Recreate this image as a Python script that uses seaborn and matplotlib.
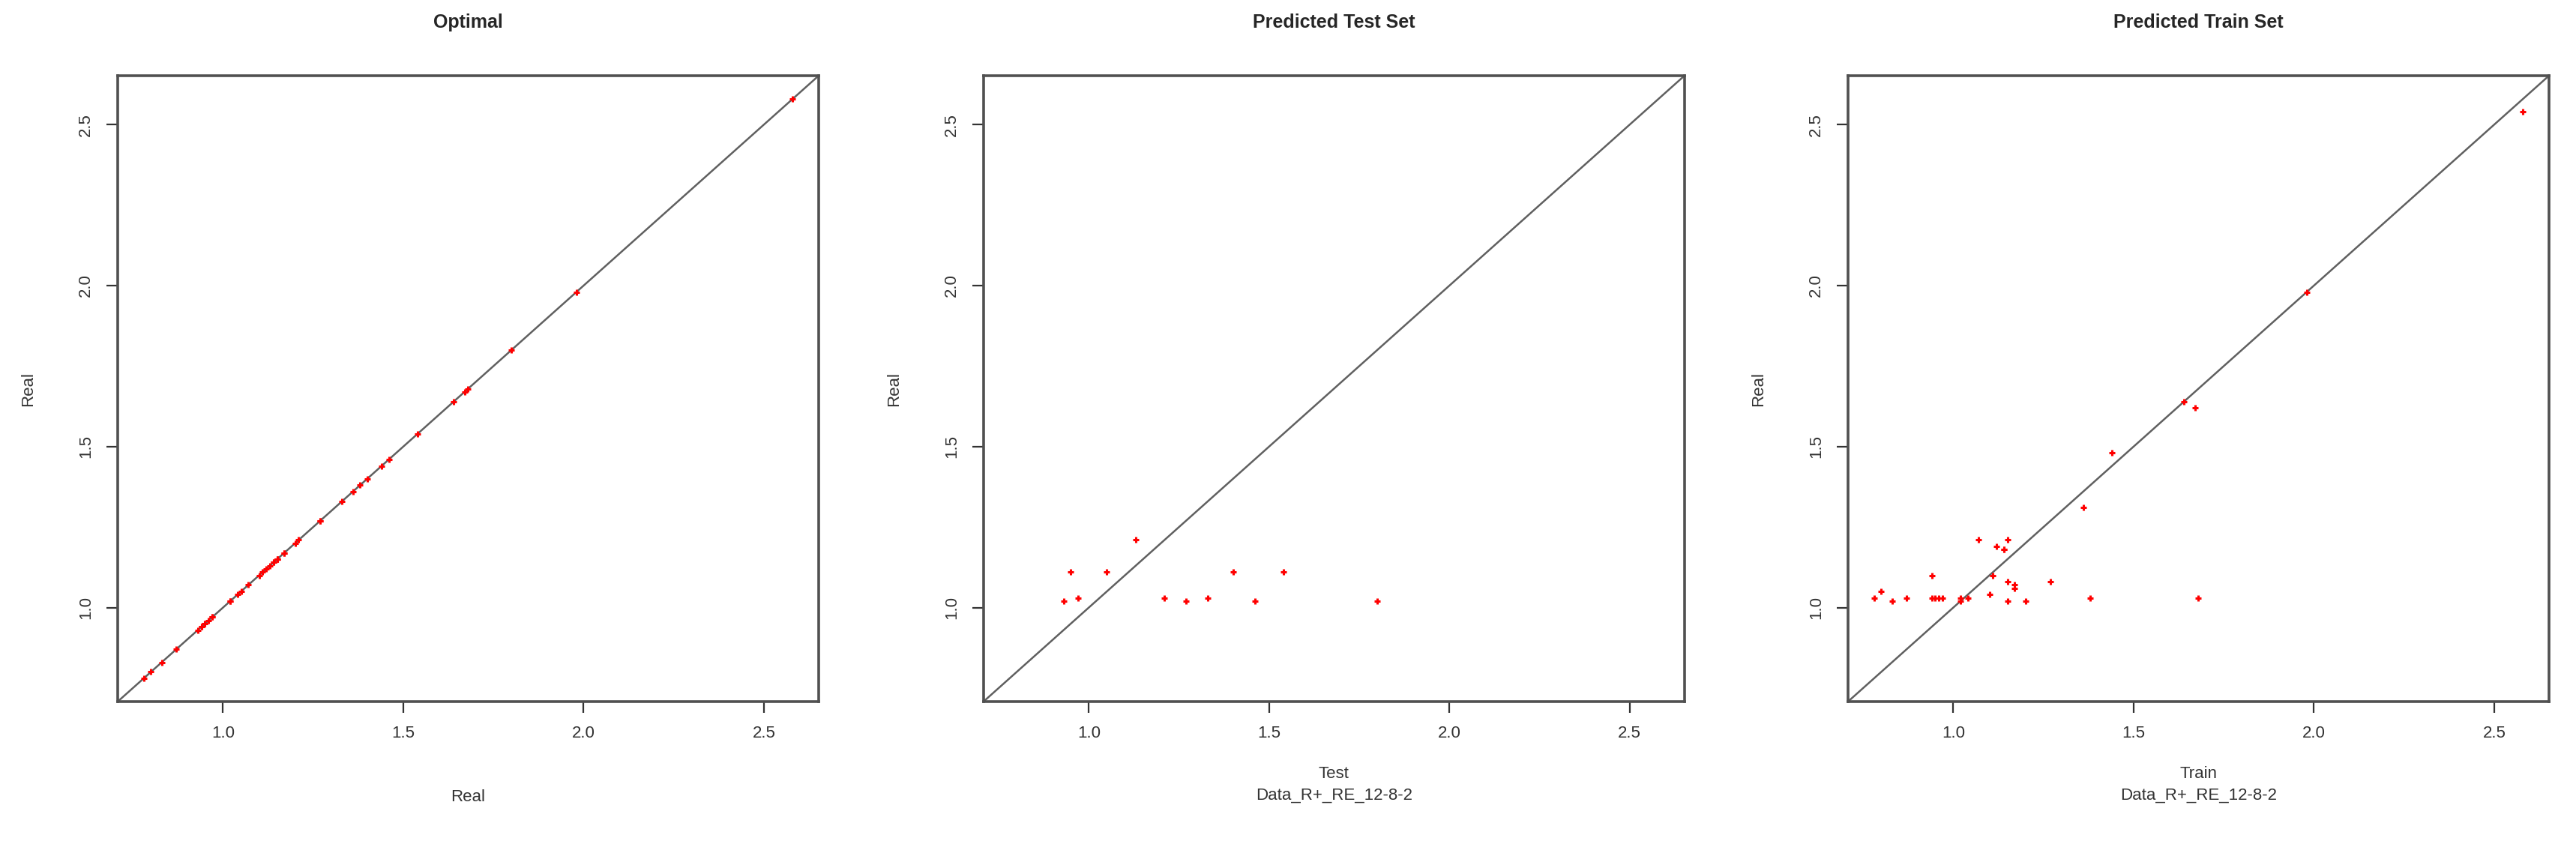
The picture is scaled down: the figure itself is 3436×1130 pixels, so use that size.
# predicted vs real plots, three panels
import matplotlib
matplotlib.use("Agg")
import matplotlib.pyplot as plt
import seaborn as sns
import pandas as pd

# values
test_real = [0.93, 0.95, 0.97, 1.05, 1.13, 1.21, 1.27, 1.33, 1.40, 1.46, 1.54, 1.80]
test_pred = [1.02, 1.11, 1.03, 1.11, 1.21, 1.03, 1.02, 1.03, 1.11, 1.02, 1.11, 1.02]

train_real = [0.78, 0.80, 0.83, 0.87, 0.94, 0.94, 0.95, 0.96, 0.97, 1.02, 1.02,
              1.04, 1.07, 1.10, 1.11, 1.12, 1.14, 1.15, 1.14, 1.15, 1.15, 1.17,
              1.17, 1.20, 1.27, 1.36, 1.38, 1.44, 1.64, 1.67, 1.68, 1.98, 2.58]
train_pred = [1.03, 1.05, 1.02, 1.03, 1.10, 1.03, 1.03, 1.03, 1.03, 1.03, 1.02,
              1.03, 1.21, 1.04, 1.10, 1.19, 1.18, 1.21, 1.18, 1.08, 1.02, 1.06,
              1.07, 1.02, 1.08, 1.31, 1.03, 1.48, 1.64, 1.62, 1.03, 1.98, 2.54]

all_real = sorted(test_real + train_real)

ticks = [1.0, 1.5, 2.0, 2.5]
titles = ["Optimal", "Predicted Test Set", "Predicted Train Set"]
xlabels = ["Real", "Test\nData_R+_RE_12-8-2", "Train\nData_R+_RE_12-8-2"]

sns.set_style("white")
plt.rcParams["font.family"] = ["Liberation Sans Narrow", "Liberation Sans", "DejaVu Sans"]

panels = [
    pd.DataFrame({"x": all_real, "y": all_real}),
    pd.DataFrame({"x": test_real, "y": test_pred}),
    pd.DataFrame({"x": train_real, "y": train_pred}),
]

# R style 4% padding around the data
lo = min(all_real + test_pred + train_pred)
hi = max(all_real + test_pred + train_pred)
pad = 0.04 * (hi - lo)
lims = (lo - pad, hi + pad)

fig = plt.figure(figsize=(34.36, 11.30), dpi=100)
lefts = [0.0457, 0.3818, 0.7174]
w, b, h = 0.2721, 0.1717, 0.7389
xpads = [46, 24, 24]

for i in range(3):
    ax = fig.add_axes([lefts[i], b, w, h])
    ax.axline((1.0, 1.0), slope=1, color="#606060", lw=1.8, zorder=1)
    sns.scatterplot(data=panels[i], x="x", y="y", ax=ax, color="red",
                    marker="+", s=40, linewidth=2.2, zorder=3)
    ax.set_xlim(lims)
    ax.set_ylim(lims)
    ax.set_xticks(ticks)
    ax.set_yticks(ticks)
    ax.set_xticklabels(["1.0", "1.5", "2.0", "2.5"], fontsize=16, color="#333333")
    ax.set_yticklabels(["1.0", "1.5", "2.0", "2.5"], fontsize=16, color="#333333",
                       rotation=90, va="center")
    ax.tick_params(axis="both", direction="out", length=11, width=1.6,
                   color="#333333", pad=12, left=True, bottom=True)
    for sp in ax.spines.values():
        sp.set_visible(True)
        sp.set_color("#505050")
        sp.set_linewidth(2.6)
    ax.set_title(titles[i], fontsize=18, fontweight="bold", pad=46)
    ax.set_xlabel(xlabels[i], fontsize=16, labelpad=xpads[i], color="#333333",
                  linespacing=1.45)
    ax.set_ylabel("Real", fontsize=16, labelpad=40, color="#333333")

fig.savefig("out.png", dpi=100, facecolor="white")
